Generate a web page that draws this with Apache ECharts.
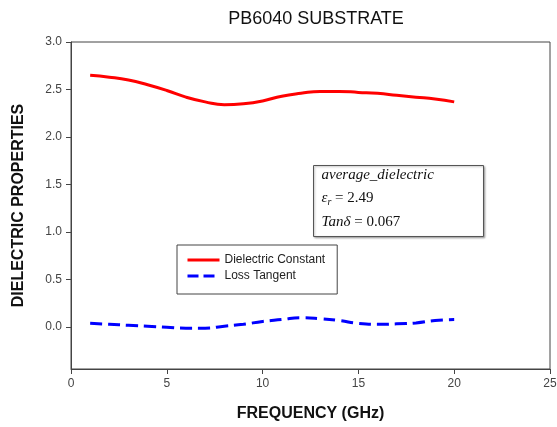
<!DOCTYPE html>
<html>
<head>
<meta charset="utf-8">
<script src="https://cdn.jsdelivr.net/npm/echarts@6/dist/echarts.min.js"></script>
<style>
  html, body { margin: 0; padding: 0; background: #fff; }
  #chart { width: 557px; height: 427px; }
</style>
</head>
<body>
<div id="chart"></div>
<script>
// frequency points (GHz)
var freq = [1, 2, 3, 4, 5, 6, 7, 8, 9, 10, 11, 12, 13, 14, 15, 16, 17, 18, 19, 20];
var dielectric = [2.65, 2.63, 2.60, 2.55, 2.49, 2.42, 2.37, 2.34, 2.35, 2.38,
                  2.43, 2.46, 2.48, 2.48, 2.47, 2.46, 2.44, 2.42, 2.40, 2.37];
var lossTan = [0.04, 0.03, 0.02, 0.01, 0.0, -0.01, -0.01, 0.01, 0.03, 0.06,
               0.08, 0.10, 0.09, 0.07, 0.04, 0.03, 0.035, 0.045, 0.07, 0.08];
var yTicks = [0, 0.5, 1.0, 1.5, 2.0, 2.5, 3.0];
var seriesNames = ['Dielectric Constant', 'Loss Tangent'];

function pairs(xs, ys) {
    var out = [];
    for (var i = 0; i < xs.length; i++) out.push([xs[i], ys[i]]);
    return out;
}

var chart = echarts.init(document.getElementById('chart'));
chart.setOption({
    animation: false,
    title: {
        text: 'PB6040 SUBSTRATE',
        left: 311,
        textAlign: 'center',
        top: 5,
        textStyle: { fontFamily: 'Liberation Sans', fontSize: 18, fontWeight: 'normal', color: '#111' }
    },
    grid: {
        left: 71, right: 7, top: 42, bottom: 58,
        outerBoundsMode: 'none',
        show: true, borderColor: '#444', borderWidth: 1
    },
    legend: {
        orient: 'vertical',
        left: 177,
        top: 245,
        width: 170,
        itemWidth: 32,
        itemHeight: 10,
        itemGap: 4,
        padding: [9, 12, 12, 9],
        borderColor: '#444',
        borderWidth: 1,
        backgroundColor: '#fff',
        itemStyle: { opacity: 0 },
        data: [
            { name: seriesNames[0], lineStyle: { color: '#ff0000', width: 3, type: 'solid' } },
            { name: seriesNames[1], lineStyle: { color: '#0000ff', width: 3, type: [11, 5] } }
        ],
        textStyle: { fontFamily: 'Liberation Sans', fontSize: 12, color: '#222' }
    },
    xAxis: {
        type: 'value',
        min: 0,
        max: 25,
        interval: 5,
        name: 'FREQUENCY (GHz)',
        nameLocation: 'middle',
        nameGap: 37,
        nameTextStyle: { fontFamily: 'Liberation Sans', fontSize: 16, fontWeight: 'bold', color: '#111' },
        axisLine: { onZero: false, lineStyle: { color: '#444' } },
        axisTick: { show: true, length: 5, lineStyle: { color: '#444' } },
        axisLabel: { fontFamily: 'Liberation Sans', fontSize: 12, color: '#444', margin: 9 },
        splitLine: { show: false }
    },
    yAxis: {
        type: 'value',
        min: -0.44,
        max: 3.0,
        name: 'DIELECTRIC PROPERTIES',
        nameLocation: 'middle',
        nameGap: 44,
        nameTextStyle: { fontFamily: 'Liberation Sans', fontSize: 16, fontWeight: 'bold', color: '#111' },
        axisLine: { onZero: false, lineStyle: { color: '#444' } },
        axisTick: { show: true, length: 5, customValues: yTicks, lineStyle: { color: '#444' } },
        axisLabel: {
            customValues: yTicks,
            fontFamily: 'Liberation Sans', fontSize: 12, color: '#444', margin: 9,
            formatter: function (v) { return v.toFixed(1); }
        },
        splitLine: { show: false }
    },
    series: [
        {
            name: seriesNames[0],
            type: 'line',
            smooth: true,
            showSymbol: false,
            symbol: 'none',
            data: pairs(freq, dielectric),
            lineStyle: { color: '#ff0000', width: 3 },
            itemStyle: { color: '#ff0000' }
        },
        {
            name: seriesNames[1],
            type: 'line',
            smooth: true,
            showSymbol: false,
            symbol: 'none',
            data: pairs(freq, lossTan),
            lineStyle: { color: '#0000ff', width: 3, type: [12, 6] },
            itemStyle: { color: '#0000ff' }
        }
    ],
    graphic: [
        {
            type: 'group',
            left: 313,
            top: 165,
            children: [
                { type: 'rect', shape: { x: 0, y: 0, width: 170, height: 71 },
                  style: { fill: '#fff', stroke: '#555', lineWidth: 1, shadowBlur: 2, shadowColor: 'rgba(0,0,0,0.3)', shadowOffsetX: 1, shadowOffsetY: 1 } },
                { type: 'text', left: 8, top: 2,
                  style: { text: 'average_dielectric', font: 'italic 15px "Liberation Serif"', fill: '#111' } },
                { type: 'text', left: 8, top: 25,
                  style: {
                      text: '{i|ε}{s|r}{n| = 2.49}',
                      rich: {
                          i: { font: 'italic 15px "Liberation Serif"', fill: '#111' },
                          s: { font: 'italic 10px "Liberation Serif"', fill: '#111', padding: [8, 0, 0, 0] },
                          n: { font: '15px "Liberation Serif"', fill: '#111' }
                      }
                  } },
                { type: 'text', left: 8, top: 49,
                  style: {
                      text: '{i|Tanδ}{n| = 0.067}',
                      rich: {
                          i: { font: 'italic 15px "Liberation Serif"', fill: '#111' },
                          n: { font: '15px "Liberation Serif"', fill: '#111' }
                      }
                  } }
            ]
        }
    ]
});
</script>
</body>
</html>
